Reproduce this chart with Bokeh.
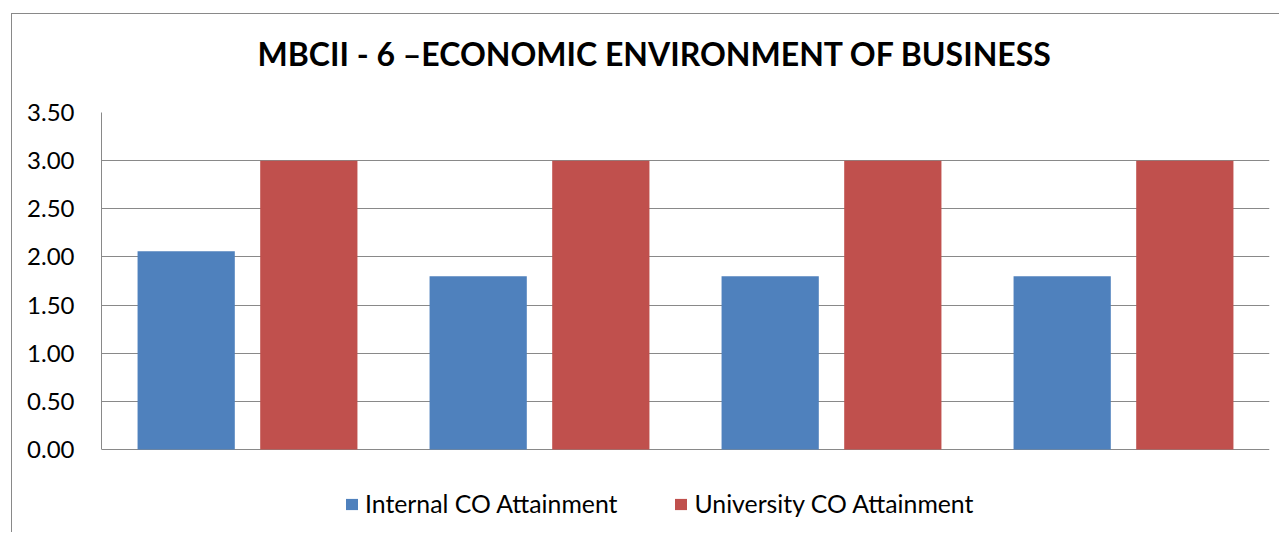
from bokeh.plotting import figure
from bokeh.models import (Range1d, FactorRange, FixedTicker, NumeralTickFormatter,
                          Legend, LegendItem, Title, ColumnDataSource)
from bokeh.transform import dodge
from bokeh.embed import file_html
from bokeh.resources import INLINE

# ---- data ----
categories = ["CO1", "CO2", "CO3", "CO4"]
internal = [2.06, 1.80, 1.80, 1.80]
university = [3.00, 3.00, 3.00, 3.00]
y_ticks = [0.0, 0.5, 1.0, 1.5, 2.0, 2.5, 3.0, 3.5]
title_text = "MBCII - 6 \u2013ECONOMIC ENVIRONMENT OF BUSINESS"
series_names = ["Internal CO Attainment", "University CO Attainment"]

BLUE = "#4F81BD"
RED = "#C0504D"
GRID = "#898989"
FONT = "Lato"

Y_MAX = 3.5
PX_PER_UNIT = 337 / Y_MAX
LEGEND_ROOM = 75  # px of frame kept below zero for the legend

src = ColumnDataSource(dict(cat=categories, internal=internal, university=university))

p = figure(x_range=FactorRange(*categories),
           y_range=Range1d(-LEGEND_ROOM / PX_PER_UNIT, Y_MAX),
           frame_width=1168, frame_height=337 + LEGEND_ROOM, x_axis_location=None,
           min_border_left=89, min_border_top=98, min_border_right=10, min_border_bottom=8,
           output_backend="svg", toolbar_location=None, background_fill_color="white",
           border_fill_color="white")
p.margin = (13, 0, 0, 11)
p.styles = {"border-left": "1px solid #898989", "border-top": "1px solid #898989"}
p.outline_line_color = None

r1 = p.vbar(x=dodge("cat", -0.21, range=p.x_range), top="internal", bottom=0, width=0.333,
            source=src, fill_color=BLUE, line_color=None)
r2 = p.vbar(x=dodge("cat", 0.21, range=p.x_range), top="university", bottom=0, width=0.333,
            source=src, fill_color=RED, line_color=None)

# y axis
p.yaxis.ticker = FixedTicker(ticks=y_ticks)
p.yaxis.bounds = (0, Y_MAX)
p.yaxis.formatter = NumeralTickFormatter(format="0.00")
p.yaxis.axis_line_color = GRID
p.yaxis.major_tick_line_color = None
p.yaxis.minor_tick_line_color = None
p.yaxis.major_tick_out = 0
p.yaxis.major_label_standoff = 27
p.yaxis.major_label_text_font = FONT
p.yaxis.major_label_text_font_size = "24px"
p.yaxis.major_label_text_color = "black"

p.xgrid.grid_line_color = None
p.ygrid.ticker = FixedTicker(ticks=y_ticks)
p.ygrid.grid_line_color = GRID
p.ygrid.grid_line_width = 1

# spacer above frame, then the title
p.add_layout(Title(text=" ", text_font=FONT, text_font_size="10px", standoff=26), "above")
p.add_layout(Title(text=title_text, text_font=FONT, text_font_style="bold",
                   text_font_size="32px", align="left", offset=156, standoff=0,
                   vertical_align="bottom", text_color="black"), "above")

legend = Legend(items=[LegendItem(label=series_names[0], renderers=[r1]),
                       LegendItem(label=series_names[1], renderers=[r2])],
                orientation="horizontal", location=(243, 6),
                padding=0, margin=0, border_line_color=None, background_fill_alpha=0,
                glyph_width=15, glyph_height=14, label_standoff=6, spacing=56,
                label_text_font=FONT, label_text_font_size="24.8px", label_text_color="black")
p.add_layout(legend)

open("out.html", "w").write(file_html(p, INLINE))
